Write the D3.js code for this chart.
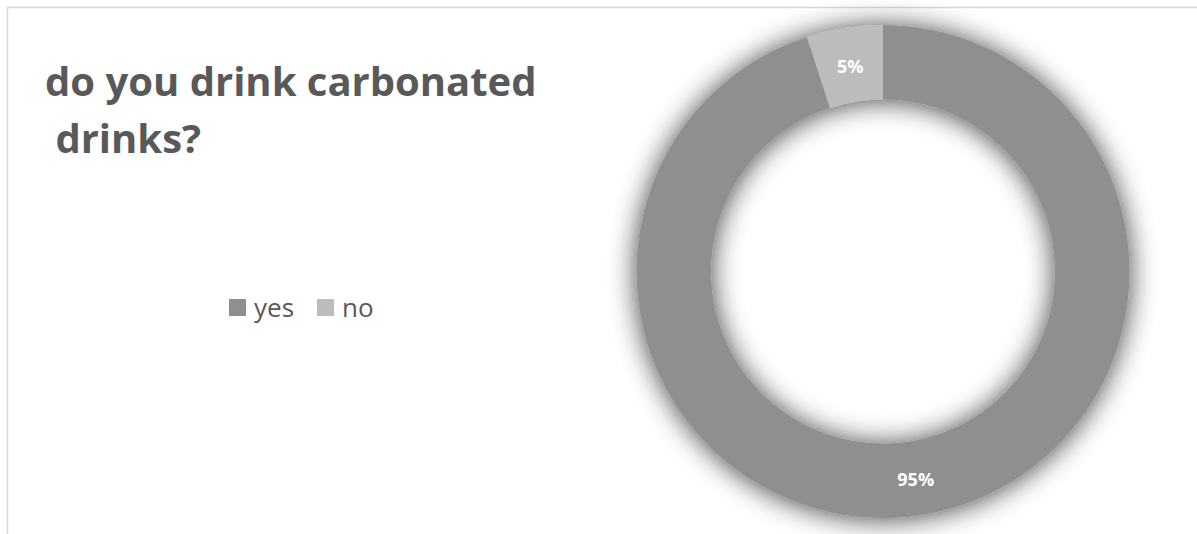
<!DOCTYPE html>
<html>
<head>
<meta charset="utf-8">
<script src="https://cdn.jsdelivr.net/npm/d3@7"></script>
<style>
  html, body { margin: 0; padding: 0; background: #ffffff; }
  svg { display: block; }
</style>
</head>
<body>
<script>
// Survey answers
const categories = ["yes", "no"];
const values = [95, 5];
const sliceLabels = ["95%", "5%"];
const titleLines = ["do you drink carbonated", " drinks?"];

const W = 1197, H = 534;
const colors = d3.scaleOrdinal().domain(categories).range(["#8f8f8f", "#bcbcbc"]);

const svg = d3.select("body").append("svg")
  .attr("width", W).attr("height", H);

// soft shadow around the ring
const defs = svg.append("defs");
const f = defs.append("filter").attr("id", "ringShadow")
  .attr("x", "-30%").attr("y", "-30%").attr("width", "160%").attr("height", "160%");
f.append("feGaussianBlur").attr("in", "SourceAlpha").attr("stdDeviation", 14).attr("result", "b");
f.append("feOffset").attr("in", "b").attr("dx", 0).attr("dy", 1).attr("result", "o");
f.append("feComponentTransfer").attr("in", "o").attr("result", "s")
  .append("feFuncA").attr("type", "linear").attr("slope", 0.75);
const m = f.append("feMerge");
m.append("feMergeNode").attr("in", "s");
m.append("feMergeNode").attr("in", "SourceGraphic");

// chart frame
svg.append("rect")
  .attr("x", 7.5).attr("y", 7.5)
  .attr("width", W + 20).attr("height", H + 20)
  .attr("fill", "none").attr("stroke", "#d9d9d9").attr("stroke-width", 1.5);

// title
const title = svg.append("text")
  .attr("font-family", "'Open Sans', sans-serif")
  .attr("font-weight", "bold")
  .attr("font-size", 40)
  .attr("fill", "#595959")
  .attr("xml:space", "preserve");
title.selectAll("tspan").data(titleLines).join("tspan")
  .attr("x", 45)
  .attr("y", (d, i) => 96 + i * 57)
  .text(d => d);

// donut
const cx = 883, cy = 271.5, rOuter = 246.5, rInner = 172;
const pie = d3.pie().sort(null).value(d => d);
const arcs = pie(values);
const arc = d3.arc().innerRadius(rInner).outerRadius(rOuter);
const labelArc = d3.arc().innerRadius((rInner + rOuter) / 2).outerRadius((rInner + rOuter) / 2);

const g = svg.append("g").attr("transform", `translate(${cx},${cy})`);
g.append("g").attr("filter", "url(#ringShadow)")
  .selectAll("path").data(arcs).join("path")
  .attr("d", arc)
  .attr("fill", (d, i) => colors(categories[i]));

g.selectAll("text.lbl").data(arcs).join("text")
  .attr("class", "lbl")
  .attr("transform", d => {
    const [x, y] = labelArc.centroid(d);
    return `translate(${x},${y + 3})`;
  })
  .attr("text-anchor", "middle")
  .attr("dominant-baseline", "middle")
  .attr("font-family", "'Open Sans', sans-serif")
  .attr("font-weight", "bold")
  .attr("font-size", 18)
  .attr("fill", "#ffffff")
  .text((d, i) => sliceLabels[i]);

// legend
const legendX = [229, 317];
const leg = svg.append("g");
const items = leg.selectAll("g").data(categories).join("g")
  .attr("transform", (d, i) => `translate(${legendX[i]},299)`);
items.append("rect")
  .attr("width", 17).attr("height", 17)
  .attr("fill", d => colors(d));
items.append("text")
  .attr("x", 25).attr("y", 18)
  .attr("font-family", "'Open Sans', sans-serif")
  .attr("font-size", 26)
  .attr("fill", "#595959")
  .text(d => d);
</script>
</body>
</html>
